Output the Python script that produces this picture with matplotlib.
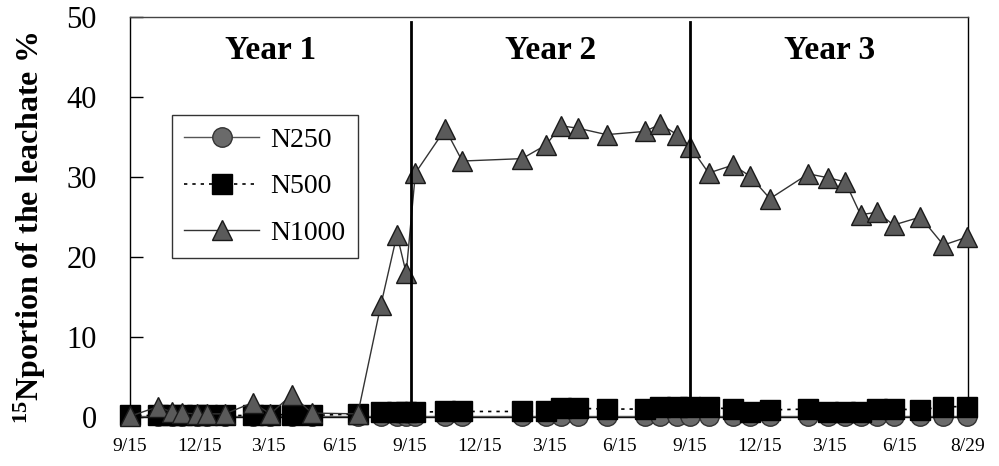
import numpy as np
import matplotlib
matplotlib.use("Agg")
import matplotlib.pyplot as plt

plt.rcParams['font.family'] = ['Liberation Serif', 'DejaVu Serif']
plt.rcParams['mathtext.fontset'] = 'custom'
plt.rcParams['mathtext.rm'] = 'Liberation Serif'
plt.rcParams['mathtext.bf'] = 'Liberation Serif:bold'
plt.rcParams['mathtext.default'] = 'regular'

# sampling days, counted from 9/15 of year 1
days = [0, 37, 55, 68, 87, 100, 124, 160, 183, 211, 237, 297, 327, 348, 360,
        372, 411, 433, 511, 542, 562, 584, 621, 671, 691, 713, 730,
        754, 786, 808, 834, 884, 910, 932, 952, 974, 995, 1030, 1060, 1091]

n250 = [0.1, 0.1, 0.1, 0.1, 0.1, 0.1, 0.1, 0.1, 0.1, 0.1, 0.1, 0.1, 0.1, 0.1, 0.1,
        0.1, 0.1, 0.1, 0.1, 0.1, 0.1, 0.1, 0.1, 0.1, 0.1, 0.1, 0.1,
        0.1, 0.1, 0.1, 0.1, 0.1, 0.1, 0.1, 0.1, 0.1, 0.1, 0.1, 0.1, 0.1]

n500 = [0.2, 0.2, 0.2, 0.2, 0.2, 0.2, 0.2, 0.2, 0.3, 0.3, 0.2, 0.4, 0.6, 0.6, 0.6,
        0.6, 0.7, 0.7, 0.7, 0.8, 1.1, 1.1, 1.0, 1.0, 1.2, 1.2, 1.2,
        1.2, 1.0, 0.6, 0.9, 1.0, 0.6, 0.6, 0.6, 1.0, 1.0, 0.9, 1.3, 1.3]

n1000 = [0.1, 1.3, 0.6, 0.5, 0.4, 0.4, 0.4, 1.8, 0.4, 2.8, 0.5, 0.4, 14.0, 22.8, 18.0,
         30.5, 36.0, 32.0, 32.3, 34.0, 36.4, 36.1, 35.3, 35.7, 36.6, 35.3, 33.8,
         30.5, 31.5, 30.1, 27.3, 30.4, 29.9, 29.4, 25.3, 25.6, 24.0, 25.0, 21.5, 22.5]

tick_days = [0, 91, 181, 273, 365, 456, 546, 638, 730, 821, 911, 1003, 1091]
tick_labels = ['9/15', '12/15', '3/15', '6/15', '9/15', '12/15', '3/15', '6/15',
               '9/15', '12/15', '3/15', '6/15', '8/29']

year_bounds = [0, 366, 730, 1092]
year_names = ['Year 1', 'Year 2', 'Year 3']

fig = plt.figure(figsize=(9.99, 4.66), dpi=100)
ax = fig.add_axes([0.130, 0.105, 0.839, 0.8585])

ax.plot(days, n250, '-o', color='#555555', lw=1, ms=14, mfc='#6a6a6a',
        mec='#333333', mew=1, label='N250', clip_on=False, zorder=3)
ax.plot(days, n500, linestyle=(0, (2, 3)), marker='s', color='black', lw=1.2, ms=14,
        mfc='black', mec='black', label='N500', clip_on=False, zorder=4)
ax.plot(days, n1000, '-^', color='#333333', lw=1, ms=15, mfc='#5a5a5a',
        mec='#1a1a1a', mew=1, label='N1000', clip_on=False, zorder=5)

for b in year_bounds[1:-1]:
    ax.axvline(b, ymax=0.987, color='black', lw=2, zorder=6)

for i, name in enumerate(year_names):
    mid = (year_bounds[i] + year_bounds[i + 1]) / 2
    ax.text(mid, 45.8, name, ha='center', va='center', fontsize=24, fontweight='bold')

ax.set_xlim(0, 1092)
ax.set_ylim(0, 50)
ax.set_yticks([0, 10, 20, 30, 40, 50])
ax.set_xticks(tick_days)
ax.set_xticklabels(tick_labels)
ax.tick_params(axis='y', direction='in', length=9, width=1, pad=24, labelsize=22)
ax.tick_params(axis='x', length=0, pad=15, labelsize=14)

for s in ax.spines.values():
    s.set_linewidth(1)
ax.spines['top'].set_color('#444444')

fig.text(0.03, 0.51, r'$^{15}$Nportion of the leachate %', rotation=90,
         ha='center', va='center', fontsize=23, fontweight='bold')

leg = ax.legend(loc='upper left', bbox_to_anchor=(0.05, 0.755), borderaxespad=0,
                fontsize=20, frameon=True, fancybox=False, edgecolor='black',
                handlelength=2.7, handletextpad=0.4, labelspacing=0.75,
                borderpad=0.45, markerscale=1.0)
leg.get_frame().set_linewidth(1)

fig.savefig('out.png', dpi=100)
